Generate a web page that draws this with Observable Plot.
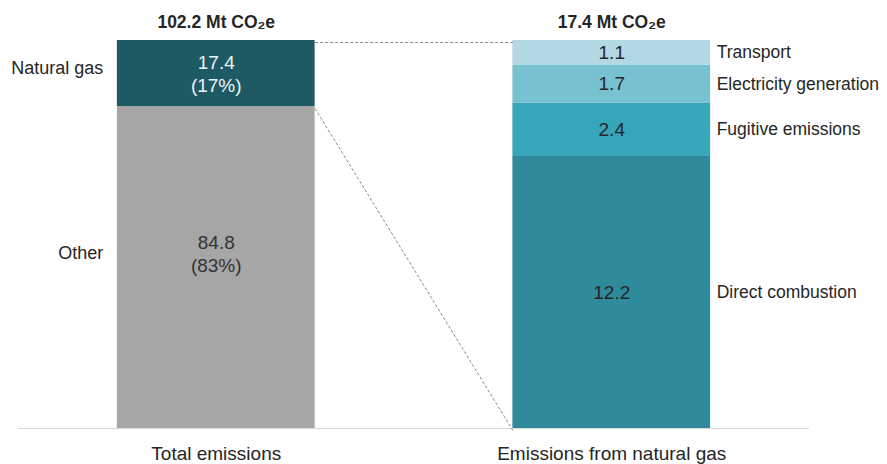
<!DOCTYPE html>
<html>
<head>
<meta charset="utf-8">
<script src="https://cdn.jsdelivr.net/npm/d3@7"></script>
<script src="https://cdn.jsdelivr.net/npm/@observablehq/plot@0.6"></script>
<style>
  html, body { margin: 0; padding: 0; background: #fff; }
  #chart svg { overflow: visible; font-family: "Liberation Sans", Arial, sans-serif; }
</style>
</head>
<body>
<div id="chart"></div>
<script>
// ---- data ----
const categories = ["Total emissions", "Emissions from natural gas"];
const unit = "Mt CO₂e";

// Total emissions bar (bottom to top)
const totalSegments = ["Other", "Natural gas"];
const totalValues = [84.8, 17.4];
const totalColors = ["#a6a6a6", "#1d5a64"];

// Natural gas breakdown bar (bottom to top)
const gasSegments = ["Direct combustion", "Fugitive emissions", "Electricity generation", "Transport"];
const gasValues = [12.2, 2.4, 1.7, 1.1];
const gasColors = ["#2f8a9c", "#37a5ba", "#78c1d0", "#b1d8e3"];

// ---- build stacked, normalized rows ----
function stack(bar, segments, values, colors, withShare) {
  const total = d3.sum(values);
  let acc = 0;
  return segments.map((s, i) => {
    const y1 = acc / total;
    acc += values[i];
    const y2 = acc / total;
    const share = Math.round(values[i] / total * 100);
    return {bar, segment: s, value: values[i], y1, y2, ym: (y1 + y2) / 2, color: colors[i],
      label: withShare ? `${values[i].toFixed(1)}\n(${share}%)` : values[i].toFixed(1)};
  });
}
const leftRows = stack(0, totalSegments, totalValues, totalColors, true);
const rightRows = stack(1, gasSegments, gasValues, gasColors, false);
const rows = leftRows.concat(rightRows);
const totals = [
  {bar: 0, text: `${d3.sum(totalValues).toFixed(1)} ${unit}`},
  {bar: 1, text: `${d3.sum(gasValues).toFixed(1)} ${unit}`}
];
const half = 0.25;
const gasRow = leftRows.find(d => d.segment === "Natural gas");
const otherRow = leftRows.find(d => d.segment === "Other");
const connectors = [
  {x1: 0 + half, y1: gasRow.y2, x2: 1 - half, y2: 1},
  {x1: 0 + half, y1: gasRow.y1, x2: 1 - half, y2: 0}
];

const ink = "#262626";
const chart = Plot.plot({
  width: 887,
  height: 464,
  marginLeft: 18,
  marginRight: 78,
  marginTop: 40,
  marginBottom: 36,
  style: {fontFamily: "'Liberation Sans', Arial, sans-serif", background: "#fff"},
  x: {domain: [-0.5, 1.5], axis: null},
  y: {domain: [0, 1], axis: null},
  marks: [
    Plot.rect(rows, {x1: d => d.bar - half, x2: d => d.bar + half, y1: "y1", y2: "y2", fill: "color"}),
    Plot.ruleY([0], {stroke: "#d9d9d9", strokeWidth: 1}),
    Plot.link(connectors, {x1: "x1", y1: "y1", x2: "x2", y2: "y2", stroke: "#8a8a8a", strokeWidth: 1, strokeDasharray: "3,2", dy: 2}),
    // values inside bars
    Plot.text([gasRow], {x: "bar", y: "ym", text: "label", fill: "#eef4f4", fontSize: 19, lineHeight: 1.2}),
    Plot.text([otherRow], {x: "bar", y: "ym", text: "label", fill: "#333333", fontSize: 19, lineHeight: 1.2, dy: -14}),
    Plot.text(rightRows, {x: "bar", y: "ym", text: "label", fill: ink, fontSize: 19}),
    // segment names
    Plot.text([gasRow], {x: d => d.bar - half, y: "ym", text: "segment", textAnchor: "end", dx: -14, dy: -5, fill: ink, fontSize: 18}),
    Plot.text([otherRow], {x: d => d.bar - half, y: "ym", text: "segment", textAnchor: "end", dx: -14, dy: -14, fill: ink, fontSize: 18}),
    Plot.text(rightRows, {x: d => d.bar + half, y: "ym", text: "segment", textAnchor: "start", dx: 6, fill: ink, fontSize: 17.5}),
    // totals above bars
    Plot.text(totals, {x: "bar", y: () => 1, text: "text", dy: -18, fontWeight: "bold", fill: ink, fontSize: 17.5}),
    Plot.axisX([0, 1], {tickFormat: i => categories[i], tickSize: 0, tickPadding: 18, fontSize: 19, fill: ink, label: null})
  ]
});
document.getElementById("chart").appendChild(chart);
</script>
</body>
</html>
